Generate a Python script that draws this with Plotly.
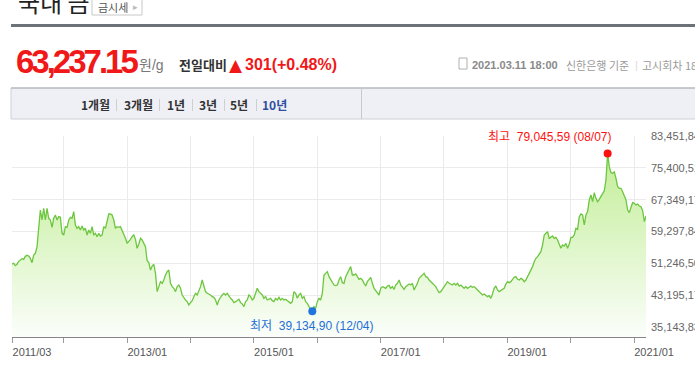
import plotly.graph_objects as go
import pandas as pd
import numpy as np

W, H = 695, 377
ML, MR, MT, MB = 12, 49, 136, 40

# Gold price (KRW per gram), roughly every 9-10 days
prices = [
    51077, 51246, 50656, 50993, 51752, 52173, 52426, 52257, 53016, 53269,
    53101, 52510, 51414, 53353, 53775, 55461, 60520, 64735, 62206, 65157,
    62206, 65157, 62628, 62206, 60351, 62628, 63471, 62206, 63049, 62880,
    58834, 58412, 60520, 60351, 62206, 62880, 62628, 64314, 60941, 60098,
    60520, 59677, 60688, 59677, 60098, 58412, 59677, 58834, 60520, 58412,
    58834, 57990, 58834, 58159, 58412, 60520, 60098, 62206, 63724, 63724,
    63471, 62206, 60098, 60520, 60351, 60520, 59677, 58834, 57569, 56304,
    56726, 57316, 57990, 58412, 57316, 55040, 56136, 57569, 57147, 56304,
    55461, 51920, 51414, 49559, 50571, 50993, 48716, 44079, 45344, 46609,
    46187, 47030, 48295, 49138, 49559, 46187, 45344, 44922, 44079, 45344,
    45766, 44922, 43236, 42393, 41972, 41550, 40707, 41297, 41803, 42815,
    43658, 43236, 44332, 45344, 47030, 45766, 44079, 43658, 43489, 43236,
    42815, 42646, 41972, 40707, 41972, 42815, 43236, 43658, 43236, 43658,
    42815, 42393, 41972, 41297, 41550, 41972, 42140, 41297, 40960, 40285,
    41550, 41972, 43236, 42815, 41972, 42393, 43489, 44922, 44079, 43658,
    43236, 42393, 42815, 41972, 42140, 42393, 41803, 41550, 42393, 41972,
    42646, 41972, 42393, 41972, 42140, 41803, 41550, 41128, 41550, 44079,
    43658, 42393, 43236, 43658, 42393, 42815, 41550, 41128, 40285, 39611,
    39135, 40285, 39864, 41550, 42393, 41972, 43658, 48295, 48716, 49138,
    47873, 47199, 46187, 45766, 45597, 45766, 47030, 47873, 46356, 46187,
    47873, 48716, 49138, 50403, 48295, 48295, 48548, 47873, 47199, 47452,
    47030, 46187, 45513, 46609, 47199, 47705, 46187, 44922, 44332, 43658,
    43236, 44922, 45344, 45175, 44922, 45513, 45681, 44922, 45344, 44670,
    45766, 46187, 47030, 45766, 45175, 44670, 45344, 45766, 46018, 45766,
    46187, 44501, 45344, 46187, 47452, 47873, 48295, 48716, 47873, 47705,
    47030, 46609, 46187, 45513, 45344, 44501, 43826, 44079, 44670, 45344,
    46018, 46609, 46187, 46018, 45766, 46187, 45766, 46187, 45513, 45766,
    45344, 44922, 45344, 44922, 45175, 45513, 45175, 45344, 44922, 44501,
    44079, 43658, 43236, 43489, 43236, 42815, 43068, 42393, 43489, 44922,
    45513, 44501, 44079, 44332, 44501, 44922, 46018, 46609, 46356, 46609,
    47199, 47705, 47873, 47199, 47030, 47452, 47199, 46609, 47030, 47873,
    48548, 49138, 50403, 51667, 52510, 52932, 53775, 54197, 55883, 58412,
    58834, 59255, 57569, 57990, 58159, 57569, 57822, 57147, 56304, 55040,
    55883, 55630, 56304, 55040, 56136, 57822, 57822, 58412, 60098, 59845,
    63049, 63724, 63471, 60941, 63471, 64314, 67265, 68529, 66843, 69119,
    67686, 66843, 67433, 68108, 68782, 69625, 72323, 79046, 75696, 74178,
    74009, 74347, 72745, 70637, 70215, 70215, 69372, 68529, 67265, 64735,
    64061, 65410, 66590, 66421, 66000, 66253, 65747, 65578, 64567, 61800,
    63237,
]
dates = pd.date_range("2011-03-08", "2021-03-11", periods=len(prices))

y_tick_values = [35143.83, 43195.17, 51246.50, 59297.84, 67349.17, 75400.51, 83451.84]
y_tick_labels = ["35,143,83", "43,195,17", "51,246,50", "59,297,84",
                 "67,349,17", "75,400,51", "83,451,84"]
y_range = [32612, 83452.5]

x_tick_values = ["2011-03-08", "2012-01-01", "2013-01-01", "2014-01-01", "2015-01-01",
                 "2016-01-01", "2017-01-01", "2018-01-01", "2019-01-01", "2020-01-01",
                 "2021-01-01"]
x_tick_labels = ["2011/03", "", "2013/01", "", "2015/01", "", "2017/01", "",
                 "2019/01", "", "2021/01"]

max_label = "최고  79,045,59 (08/07)"
min_label = "최저  39,134,90 (12/04)"

title_text = "국내 금"
button_text = "금시세"
price_text = "63,237.15"
unit_text = "원/g"
change_label = "전일대비"
change_text = "301(+0.48%)"
date_text = "2021.03.11 18:00"
bank_text = "신한은행 기준"
round_text = "고시회차 18"
tabs = ["1개월", "3개월", "1년", "3년", "5년", "10년"]

KR = "Noto Sans CJK KR"
SANS = "Liberation Sans, Noto Sans CJK KR"


def px(x):
    return (x - ML) / (W - ML - MR)


def py(y):
    return (H - MB - y) / (H - MT - MB)


fig = go.Figure()
fig.add_trace(go.Scatter(
    x=dates, y=prices, mode="lines",
    line=dict(color="#6cc63f", width=1.3),
    fill="tozeroy",
    fillgradient=dict(type="vertical",
                      colorscale=[[0, "#fbfefa"], [1, "#bdec8e"]],
                      start=y_range[0], stop=y_tick_values[-1]),
    hoverinfo="skip", showlegend=False,
))

imax = int(np.argmax(prices))
imin = int(np.argmin(prices))
fig.add_trace(go.Scatter(x=[dates[imax]], y=[prices[imax]], mode="markers",
                         marker=dict(color="#ff1010", size=8), showlegend=False))
fig.add_trace(go.Scatter(x=[dates[imin]], y=[prices[imin]], mode="markers",
                         marker=dict(color="#1f74e0", size=8), showlegend=False))

ann = []
ann.append(dict(x=dates[imax], y=prices[imax], xref="x", yref="y", text=max_label,
                showarrow=False, xanchor="right", yanchor="bottom", xshift=6, yshift=7,
                font=dict(family=SANS, size=12, color="#ff1010")))
ann.append(dict(x=dates[imin], y=prices[imin], xref="x", yref="y", text=min_label,
                showarrow=False, xanchor="center", yanchor="top", yshift=-6,
                font=dict(family=SANS, size=12, color="#1f6fd6")))


def text(x, y, s, size, color, anchor="left", family=SANS):
    ann.append(dict(x=px(x), y=py(y), xref="paper", yref="paper", text=s,
                    showarrow=False, xanchor=anchor, yanchor="middle",
                    font=dict(family=family, size=size, color=color)))


# header
text(16, 1, title_text, 24, "#222222", family=KR)
text(112.5, 6.5, button_text, 11, "#555555", anchor="center", family=KR)
text(135, 6.5, "▸", 9, "#bbbbbb", anchor="center")
text(14, 62, "<b><span style='letter-spacing:-3px'>" + price_text + "</span></b>", 33, "#f01818")
text(137, 65, unit_text, 14, "#777777")
text(177, 65, "<b>" + change_label + "</b>", 13, "#333333", family=KR)
text(227, 65, "▲", 17, "#f01818", family="DejaVu Sans")
text(243, 65, "<b>" + change_text + "</b>", 16, "#f01818")
text(470, 65, "<b>" + date_text + "</b>", 11, "#8a8a8a")
text(564, 65, bank_text, 11, "#9a9a9a", family=KR)
text(633, 65, "|", 11, "#dddddd")
text(640, 65, round_text, 11, "#9a9a9a", family=KR)

tab_centers = [95.5, 138, 175.5, 207.5, 238.5, 274]
for i, (t, cx) in enumerate(zip(tabs, tab_centers)):
    text(cx, 104, "<b>" + t + "</b>", 12, "#2f4ea0" if i == len(tabs) - 1 else "#333333",
         anchor="center", family=KR)

shapes = []


def rect(x0, y0, x1, y1, fill, line=None, lw=0):
    shapes.append(dict(type="rect", xref="paper", yref="paper", x0=px(x0), x1=px(x1),
                       y0=py(y1), y1=py(y0), fillcolor=fill, layer="above",
                       line=dict(color=line or fill, width=lw)))


def hline(x0, x1, y, color, lw=1):
    shapes.append(dict(type="line", xref="paper", yref="paper", x0=px(x0), x1=px(x1),
                       y0=py(y), y1=py(y), line=dict(color=color, width=lw)))


def vline(x, y0, y1, color, lw=1):
    shapes.append(dict(type="line", xref="paper", yref="paper", x0=px(x), x1=px(x),
                       y0=py(y0), y1=py(y1), line=dict(color=color, width=lw)))


rect(11, 24, 700, 27, "#6d7279")
shapes.append(dict(type="rect", xref="paper", yref="paper", x0=px(92), x1=px(142),
                   y0=py(15), y1=py(-3), fillcolor="rgba(0,0,0,0)", layer="below",
                   line=dict(color="#c8c8c8", width=1)))
rect(11, 88, 700, 119, "#eff0f5", "#cfd0d6", 1)
hline(11, 700, 88, "#a9acb6")
vline(361.5, 88, 119, "#c8c9ce")
for sx in [116.5, 159.5, 192.5, 224.5, 256.5]:
    vline(sx, 99, 111, "#cfcfcf")
shapes.append(dict(type="rect", xref="paper", yref="paper", x0=px(459), x1=px(467),
                   y0=py(69), y1=py(58), fillcolor="rgba(0,0,0,0)",
                   line=dict(color="#b0b0b0", width=1)))

fig.update_layout(
    width=W, height=H, autosize=False,
    margin=dict(l=ML, r=MR, t=MT, b=MB),
    paper_bgcolor="white", plot_bgcolor="white",
    font=dict(family=SANS, size=11, color="#555555"),
    showlegend=False,
    annotations=ann,
    shapes=shapes,
    xaxis=dict(
        type="date", range=[dates[0], dates[-1]], automargin=False,
        tickmode="array", tickvals=x_tick_values, ticktext=x_tick_labels,
        showgrid=True, gridcolor="#ebebeb", gridwidth=1,
        showline=True, linecolor="#858585", linewidth=1,
        ticks="outside", ticklen=5, tickcolor="#9a9a9a",
        ticklabelshift=20,
        tickfont=dict(family="Liberation Sans", size=11, color="#555555"),
        zeroline=False, fixedrange=True,
    ),
    yaxis=dict(
        side="right", range=y_range, automargin=False,
        tickmode="array", tickvals=y_tick_values, ticktext=y_tick_labels,
        showgrid=True, gridcolor="#ebebeb", gridwidth=1,
        ticks="", ticklabelstandoff=4,
        tickfont=dict(family="Liberation Sans", size=11, color="#666666"),
        zeroline=False, showline=False, fixedrange=True,
    ),
)

post = "document.body.style.margin='0';document.body.style.overflow='hidden';"
fig.write_html("out.html", config={"displayModeBar": False}, post_script=post)
